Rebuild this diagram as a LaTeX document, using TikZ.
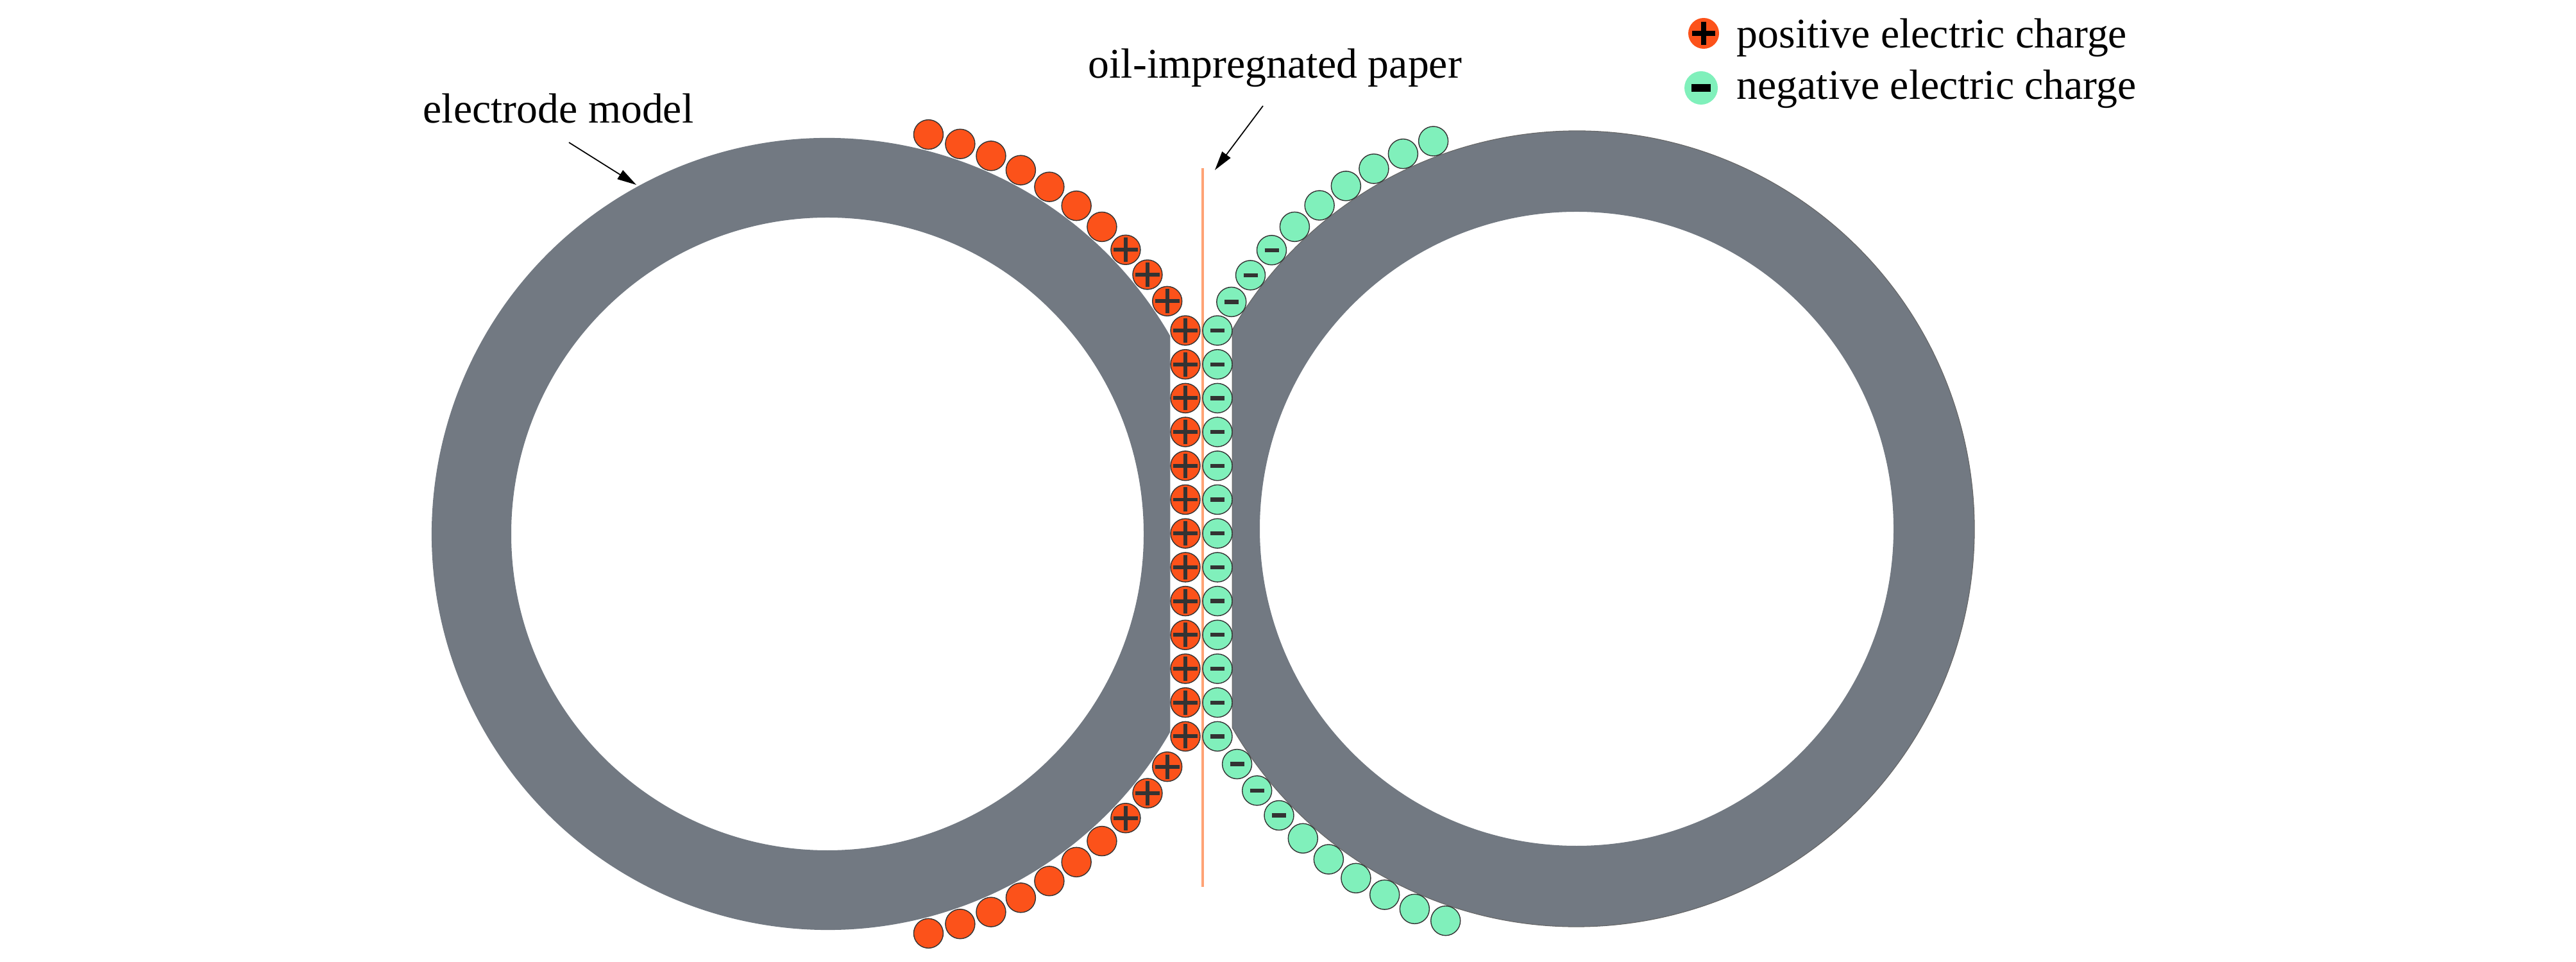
\documentclass[tikz,border=0pt]{standalone}
\usepackage{fontspec}
\setmainfont{Liberation Serif}
\usetikzlibrary{arrows.meta}
\definecolor{electrodegray}{RGB}{114,121,130}
\definecolor{posorange}{RGB}{252,82,26}
\definecolor{neggreen}{RGB}{128,240,187}
\definecolor{papercolor}{RGB}{255,163,118}

\begin{document}
\begin{tikzpicture}[>={Triangle[length=8.5pt,width=4.6pt]},
  txt/.style={inner sep=0pt,anchor=base west,font=\fontsize{18.7}{22}\selectfont},
  charge/.style={circle,draw=black!80,line width=0.4pt,minimum size=0.46cm,inner sep=0pt},
  pcharge/.style={charge,fill=posorange},
  ncharge/.style={charge,fill=neggreen},
  pplus/.style={pcharge,path picture={\draw[line width=1.7pt]
    ([xshift=-0.19cm]path picture bounding box.center) -- ([xshift=0.19cm]path picture bounding box.center)
    ([yshift=-0.19cm]path picture bounding box.center) -- ([yshift=0.19cm]path picture bounding box.center);}},
  nminus/.style={ncharge,path picture={\draw[line width=1.8pt]
    ([xshift=-0.11cm]path picture bounding box.center) -- ([xshift=0.11cm]path picture bounding box.center);}},
  electrode/.style={fill=electrodegray,even odd rule}]
  \useasboundingbox (0,0) rectangle (40.16,14.98);

  \coordinate (L) at (12.90,6.66);
  \coordinate (R) at (24.58,6.74);
  \fill[electrode] (L) ++(30:6.17) arc (30:330:6.17) -- cycle (L) circle (4.93);
  \fill[electrode] (R) ++(150:6.2) arc (150:-150:6.2) -- cycle (R) circle (4.94);
  \draw[black!60,line width=0.3pt] (R) ++(150:6.2) arc (150:-150:6.2) -- cycle;

  \draw[papercolor,line width=1.4pt] (18.75,1.16) coordinate (pbot) -- (18.75,12.36) coordinate (ptop);

  \foreach \k in {0,1,2} {
    \path (L) ++(34.4+4.6*\k:6.42) node[pplus] (pa\k) {};
    \path (L) ++(-34.4-4.6*\k:6.42) node[pplus] (pb\k) {};
    \path (R) ++(146.7-4.55*\k:6.44) node[nminus] (na\k) {};
    \path (R) ++(214.7+4.6*\k:6.44) node[nminus] (nb\k) {};
  }
  \foreach \k in {3,...,9} {
    \path (L) ++(34.4+4.6*\k:6.42) node[pcharge] (pa\k) {};
    \path (L) ++(-34.4-4.6*\k:6.42) node[pcharge] (pb\k) {};
  }
  \foreach \k in {3,...,8} {
    \path (R) ++(146.7-4.55*\k:6.44) node[ncharge] (na\k) {};
    \path (R) ++(214.7+4.6*\k:6.44) node[ncharge] (nb\k) {};
  }
  \foreach \k in {0,...,12} {
    \node[pplus] (pc\k) at (18.48,{9.83-0.527*\k}) {};
    \node[nminus] (nc\k) at (18.98,{9.83-0.527*\k}) {};
  }

  \node[txt] (elabel) at (6.59,13.06) {electrode model};
  \node[txt] (plabel) at (16.96,13.76) {oil-impregnated paper};
  \coordinate (etip) at (9.92,12.10);
  \coordinate (ptip) at (18.94,12.33);
  \draw[->,line width=0.5pt] ([shift={(2.28,-0.30)}]elabel.base west) -- (etip);
  \draw[->,line width=0.5pt] ([shift={(2.73,-0.43)}]plabel.base west) -- (ptip);

  \node[pcharge,draw=none,minimum size=0.48cm] (legpos) at (26.56,14.46) {};
  \draw[line width=2.3pt] ([xshift=-0.18cm]legpos.center) -- ([xshift=0.18cm]legpos.center)
    ([yshift=-0.18cm]legpos.center) -- ([yshift=0.18cm]legpos.center);
  \node[ncharge,draw=none,minimum size=0.52cm] (legneg) at (26.52,13.61) {};
  \draw[line width=3.4pt] ([xshift=-0.15cm]legneg.center) -- ([xshift=0.15cm]legneg.center);
  \node[txt] (postext) at (27.07,14.23) {positive electric charge};
  \node[txt] (negtext) at (27.07,13.43) {negative electric charge};
\end{tikzpicture}
\end{document}
